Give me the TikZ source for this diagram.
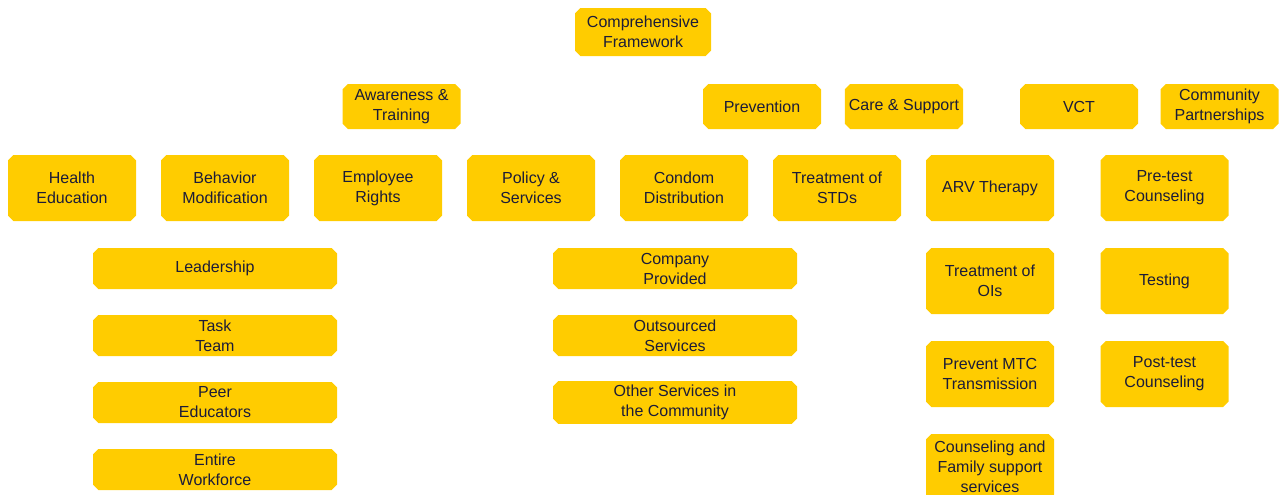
\documentclass[tikz,border=0pt]{standalone}
\usepackage{fontspec}
\setmainfont{Liberation Sans}
\usetikzlibrary{positioning,shapes.misc}
\definecolor{gold}{RGB}{255,204,0}
\definecolor{navy}{RGB}{28,28,56}

\begin{document}
\begin{tikzpicture}[x=0.75pt,y=-0.75pt]
        \tikzstyle{box} = [chamfered rectangle, chamfered rectangle xsep=2pt, chamfered rectangle ysep=2pt, fill=gold, text=navy, align=center, inner sep=1pt, font=\fontsize{12}{15}\selectfont]
        \tikzstyle{headbox} = [box, minimum width=102pt, minimum height=36pt]
        \tikzstyle{areabox} = [box, minimum width=88.5pt, minimum height=33.75pt]
        \tikzstyle{itembox} = [box, minimum width=96pt, minimum height=49.5pt, node distance=114.75pt]
        \tikzstyle{subbox} = [box, minimum width=96pt, minimum height=49.5pt, node distance=69.75pt]
        \tikzstyle{listbox} = [box, minimum width=183pt, minimum height=30.75pt, node distance=50.25pt]

                \useasboundingbox (0,0) rectangle (1283,494);

                \node (frame) [headbox] at (643,32) {Comprehensive\\Framework};

                \node (aware) [areabox] at (401.5,106.5) {Awareness \&\\Training};
                \node (prev) [areabox] at (762,106.5) {Prevention};
                \node (care) [areabox] at (904,106.5) {Care \& Support};
                \node (vct) [areabox] at (1079,106.5) {VCT};
                \node (comm) [areabox] at (1219.5,106.5) {Community\\Partnerships};

                \node (health) [itembox] at (72,188) {Health\\Education};
                \node (behav) [itembox, right of=health] {Behavior\\Modification};
                \node (rights) [itembox, right of=behav] {Employee\\Rights};
                \node (policy) [itembox, right of=rights] {Policy \&\\Services};
                \node (condom) [itembox, right of=policy] {Condom\\Distribution};
                \node (stds) [itembox, right of=condom] {Treatment of\\STDs};
                \node (arv) [itembox, right of=stds] {ARV Therapy};
                \node (pretest) [itembox] at (1164.5,188) {Pre-test\\Counseling};

                \node (lead) [listbox] at (215,268.5) {Leadership};
                \node (task) [listbox, below of=lead] {Task\\Team};
                \node (peer) [listbox, below of=task] {Peer\\Educators};
                \node (work) [listbox, below of=peer] {Entire\\Workforce};

                \node (own) [listbox] at (675,268.5) {Company\\Provided};
                \node (out) [listbox, below of=own] {Outsourced\\Services};
                \node (other) [listbox, below of=out] {Other Services in\\the Community};

                \node (ois) [subbox, below of=arv] {Treatment of\\OIs};
                \node (mtc) [subbox, below of=ois] {Prevent MTC\\Transmission};
                \node (family) [subbox, below of=mtc] {Counseling and\\Family support\\services};

                \node (test) [subbox, below of=pretest] {Testing};
                \node (posttest) [subbox, below of=test] {Post-test\\Counseling};

    \end{tikzpicture}
\end{document}
